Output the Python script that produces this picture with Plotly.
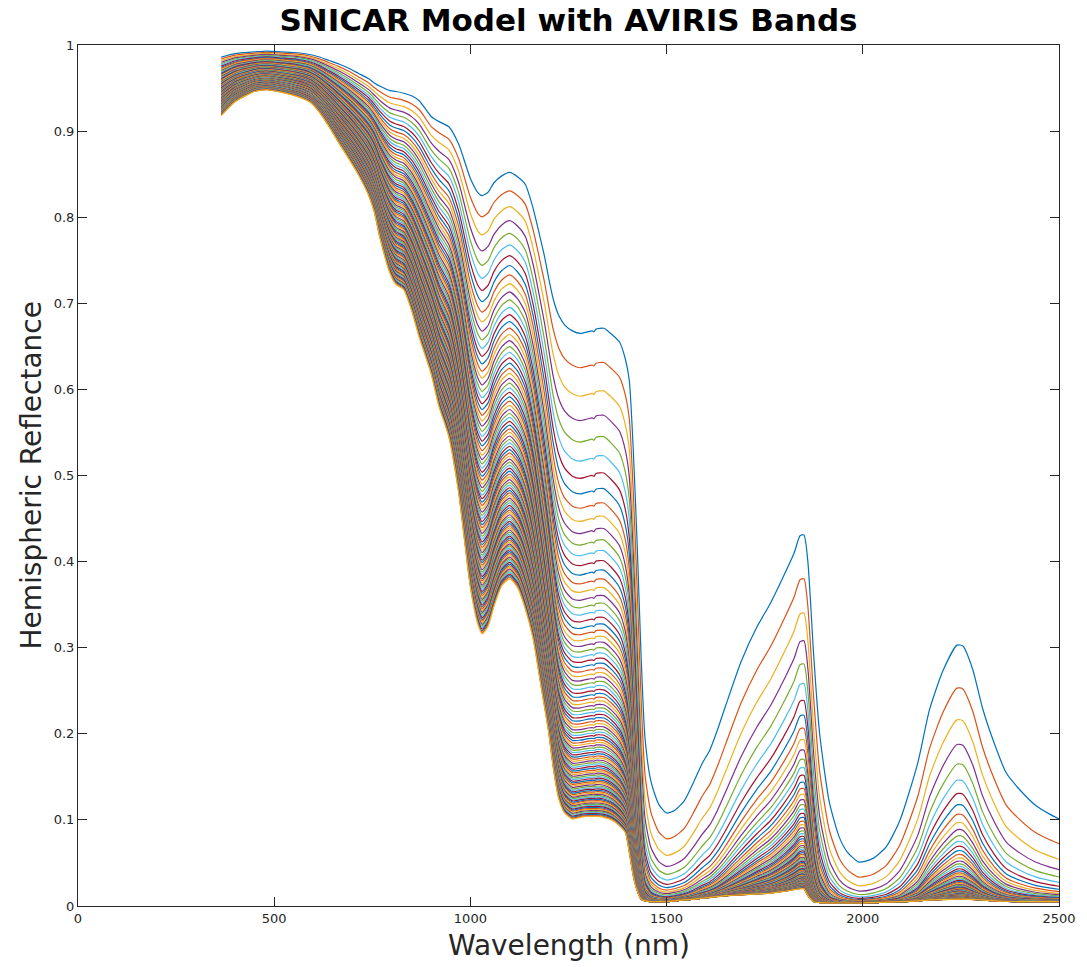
import numpy as np
import plotly.graph_objects as go

# ---- data ----
wavelength_nm = [365, 400, 450, 480, 520, 560, 590, 615, 640, 665, 690, 715, 740, 755, 770, 795,
                 810, 830, 850, 870, 900, 920, 945, 970, 1000, 1020, 1030, 1045, 1060, 1080, 1100,
                 1120, 1140, 1160, 1180, 1190, 1200, 1211, 1225, 1240, 1260, 1280, 1300, 1310,
                 1315, 1320, 1340, 1360, 1380, 1395, 1405, 1415, 1425, 1435, 1445, 1460, 1480,
                 1500, 1520, 1545, 1570, 1590, 1610, 1630, 1650, 1690, 1730, 1765, 1800, 1825,
                 1840, 1850, 1860, 1875, 1890, 1915, 1940, 1960, 1990, 2025, 2060, 2095, 2140,
                 2170, 2205, 2240, 2255, 2280, 2305, 2335, 2365, 2400, 2440, 2475, 2500]

# reflectance of the finest-grain (top, blue) spectrum
refl_finest = [0.986, 0.990, 0.992, 0.993, 0.992, 0.991, 0.989, 0.986, 0.982, 0.978, 0.973, 0.967,
               0.961, 0.956, 0.952, 0.947, 0.946, 0.944, 0.941, 0.935, 0.917, 0.911, 0.905, 0.885,
               0.845, 0.828, 0.825, 0.829, 0.840, 0.848, 0.852, 0.847, 0.838, 0.810, 0.772, 0.752,
               0.728, 0.705, 0.686, 0.675, 0.668, 0.665, 0.667, 0.668, 0.667, 0.670, 0.671, 0.664,
               0.655, 0.635, 0.610, 0.530, 0.420, 0.290, 0.195, 0.145, 0.118, 0.108, 0.111, 0.122,
               0.145, 0.165, 0.181, 0.205, 0.232, 0.284, 0.324, 0.352, 0.385, 0.410, 0.430, 0.431,
               0.400, 0.290, 0.200, 0.120, 0.080, 0.063, 0.051, 0.055, 0.069, 0.100, 0.166, 0.228,
               0.274, 0.303, 0.302, 0.275, 0.230, 0.189, 0.155, 0.135, 0.117, 0.107, 0.101]

# reflectance of the coarsest-grain (bottom, yellow) spectrum
refl_coarsest = [0.918, 0.934, 0.946, 0.948, 0.945, 0.940, 0.934, 0.922, 0.905, 0.886, 0.868, 0.849,
                 0.826, 0.806, 0.775, 0.735, 0.722, 0.716, 0.692, 0.660, 0.618, 0.580, 0.545, 0.480,
                 0.370, 0.326, 0.316, 0.325, 0.348, 0.372, 0.380, 0.370, 0.345, 0.310, 0.255, 0.228,
                 0.200, 0.161, 0.125, 0.108, 0.101, 0.103, 0.104, 0.104, 0.104, 0.104, 0.103, 0.100,
                 0.093, 0.085, 0.062, 0.035, 0.018, 0.008, 0.006, 0.005, 0.005, 0.005, 0.006, 0.007,
                 0.008, 0.009, 0.010, 0.011, 0.012, 0.013, 0.014, 0.015, 0.017, 0.019, 0.020, 0.020,
                 0.012, 0.005, 0.004, 0.0035, 0.0035, 0.0035, 0.0035, 0.004, 0.0045, 0.005, 0.006,
                 0.007, 0.0075, 0.008, 0.008, 0.0075, 0.007, 0.006, 0.0055, 0.005, 0.005, 0.005,
                 0.005]

# snow grain radii (one spectrum per radius)
grain_radius_um = list(range(30, 1031, 10))

matlab_colors = ["#0072BD", "#D95319", "#EDB120", "#7E2F8E", "#77AC30", "#4DBEEE", "#A2142F"]

x_ticks = [0, 500, 1000, 1500, 2000, 2500]
y_ticks = [0, 0.1, 0.2, 0.3, 0.4, 0.5, 0.6, 0.7, 0.8, 0.9, 1]
y_tick_text = ["0", "0.1", "0.2", "0.3", "0.4", "0.5", "0.6", "0.7", "0.8", "0.9", "1"]

# ---- build spectra ----
T = np.array(refl_finest)
B = np.array(refl_coarsest)
r = np.array(grain_radius_um, dtype=float)
g = np.sqrt(r / r[0])
gN = g[-1]

fig = go.Figure()
for i, gi in enumerate(g):
    h = (T ** gi - T ** gN) / (T - T ** gN)
    y = B + (T - B) * h
    fig.add_trace(go.Scatter(
        x=wavelength_nm, y=y, mode="lines",
        line=dict(color=matlab_colors[i % 7], width=1.2, shape="spline", smoothing=0.6),
        showlegend=False, hoverinfo="skip"))

axis_color = "#262626"
font_family = "DejaVu Sans"
plot_h = 861.0
plot_w = 981.0

fig.update_layout(
    width=1087, height=967,
    margin=dict(l=78, r=28, t=45, b=61),
    paper_bgcolor="white", plot_bgcolor="white",
    font=dict(family=font_family, color=axis_color, size=13),
    title=dict(text="<b>SNICAR Model with AVIRIS Bands</b>", x=0.5, xref="paper",
               y=1 - 20 / 967, yref="container", xanchor="center", yanchor="middle",
               font=dict(family=font_family, size=31, color="black")),
    xaxis=dict(range=[0, 2500], tickvals=x_ticks, ticktext=[str(v) for v in x_ticks],
               showgrid=False, zeroline=False, showline=True, linecolor=axis_color,
               linewidth=1, mirror="ticks", ticks="inside", ticklen=9, tickcolor=axis_color,
               tickfont=dict(size=13, color=axis_color)),
    yaxis=dict(range=[0, 1], tickvals=y_ticks, ticktext=y_tick_text,
               showgrid=False, zeroline=False, showline=True, linecolor=axis_color,
               linewidth=1, mirror="ticks", ticks="inside", ticklen=9, tickcolor=axis_color,
               tickfont=dict(size=13, color=axis_color)),
    annotations=[
        dict(text="Wavelength (nm)", x=0.5, xref="paper", y=-(945 - 906) / plot_h,
             yref="paper", yanchor="middle", xanchor="center", showarrow=False,
             font=dict(family=font_family, size=28, color=axis_color)),
        dict(text="Hemispheric Reflectance", x=-(78 - 31) / plot_w, xref="paper",
             xanchor="center", y=0.5, yref="paper", yanchor="middle", textangle=-90,
             showarrow=False, font=dict(family=font_family, size=28, color=axis_color)),
    ],
)

fig.write_html("out.html")
